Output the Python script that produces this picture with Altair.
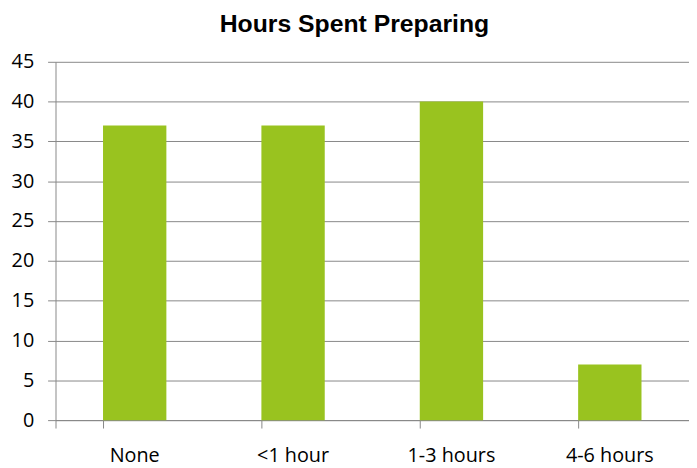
import altair as alt
import pandas as pd

categories = ["None", "<1 hour", "1-3 hours", "4-6 hours"]
values = [37, 37, 40, 7]

df = pd.DataFrame({"cat": categories, "val": values})

font = "Open Sans"
chart = alt.Chart(df).mark_bar(color="#99C31F").encode(
    x=alt.X("cat:N", sort=categories, title=None,
            scale=alt.Scale(paddingInner=0.6, paddingOuter=0.3),
            axis=alt.Axis(labelAngle=0, bandPosition=0, tickExtra=True, labelFontSize=20,
                          labelColor="#000", labelFont=font, labelPadding=18,
                          domainColor="#888", tickColor="#888", tickSize=8, grid=False)),
    y=alt.Y("val:Q", title=None,
            scale=alt.Scale(domain=[0, 45], nice=False),
            axis=alt.Axis(values=list(range(0, 50, 5)), labelFontSize=20, labelColor="#000",
                          labelFont=font, labelPadding=14,
                          domainColor="#888", tickColor="#888", tickSize=8,
                          gridColor="#888", gridWidth=1)),
).properties(
    width=640, height=362,
    title=alt.TitleParams("Hours Spent Preparing", fontSize=25, font="Liberation Sans",
                          fontWeight="bold", anchor="middle", offset=15, dx=-18, color="#000"),
    autosize=alt.AutoSizeParams(type="none"),
    padding={"left": 48, "top": 52, "right": 0, "bottom": 46},
).configure_view(stroke=None)

chart.save("out.html", embed_options={"renderer": "svg", "actions": False})
